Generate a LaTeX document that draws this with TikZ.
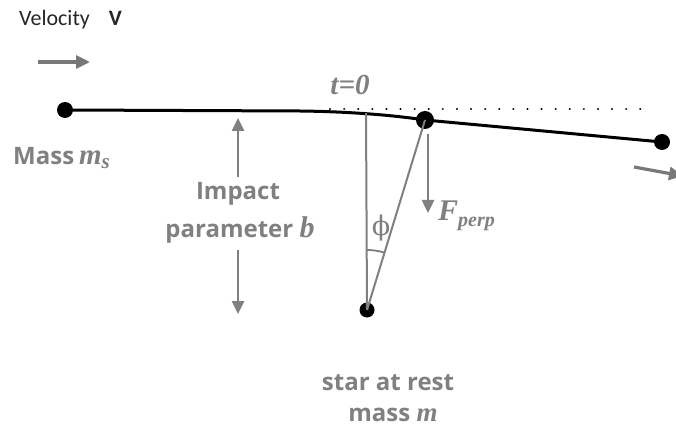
\documentclass[tikz,border=0pt]{standalone}
\usepackage{fontspec}
\usetikzlibrary{arrows.meta}
\newfontfamily\carl{Carlito}
\newfontfamily\osans{Open Sans}
\newfontfamily\lser{Liberation Serif}
\newfontfamily\dvser{DejaVu Serif}
\definecolor{gr}{RGB}{128,128,128}
\definecolor{ga}{RGB}{120,120,120}
\begin{document}
\begin{tikzpicture}[x=1pt,y=-1pt,
  dot/.style={circle,fill=black,inner sep=0pt,minimum size=#1},
  garrow/.style={draw=ga,line width=3.2pt,-{Triangle[length=14pt,width=13pt]}},
  thinarrow/.style={draw=gr,line width=2.5pt,-{Triangle[length=13pt,width=12pt]}},
  glabel/.style={text=gr,font=\osans\bfseries\fontsize{24}{27}\selectfont,inner sep=0pt},
  serit/.style={text=gr,font=\lser\bfseries\itshape\fontsize{#1}{#1}\selectfont,inner sep=0pt},
  grline/.style={draw=gr,line width=2pt},
]
\useasboundingbox (0,0) rectangle (676,430);
\fill[white] (0,0) rectangle (676,430);
% masses
\node[dot=16pt] (ms) at (65,110) {};
\node[dot=18pt] (mid) at (425,120) {};
\node[dot=16pt] (end) at (662,142) {};
\node[dot=15pt] (star) at (367,310) {};
\coordinate (bend) at (300,111);
\coordinate (top) at (366,113);
\coordinate (d0) at (330,109);
\coordinate (d1) at (648,109);
% trajectory
\draw[line width=2.2pt,line cap=round,dash pattern=on 0.1pt off 14pt] (d0) -- (d1);
\draw[line width=3pt] (ms.center) -- (bend) .. controls (340,111.5) and (385,114) .. (mid.center) -- (end.center);
% geometry lines
\draw[grline] (top) -- (star.center);
\draw[grline] (star.center) -- (mid.center);
\draw[draw=gr,line width=1.8pt] (star.center) ++(90:60pt) arc[start angle=90,end angle=73,radius=60pt];
% force arrow
\coordinate (f0) at (428,134);
\coordinate (f1) at (428,213);
\draw[thinarrow] (f0) -- (f1);
% velocity arrows
\coordinate (va0) at (38,62);
\coordinate (va1) at (90,62);
\draw[garrow] (va0) -- (va1);
\coordinate (vb0) at (634,167);
\coordinate (vb1) at (683,176);
\draw[garrow] (vb0) -- (vb1);
% impact parameter arrows
\coordinate (ia0) at (238,177);
\coordinate (ia1) at (238,118);
\coordinate (ib0) at (238,250);
\coordinate (ib1) at (238,314);
\draw[thinarrow] (ia0) -- (ia1);
\draw[thinarrow] (ib0) -- (ib1);
% texts
\node[anchor=west,inner sep=0pt,text=black!85,font=\carl\fontsize{22}{25}\selectfont] (vel) at (19,20) {Velocity\hspace{19pt}\textbf{V}};
\node[glabel,anchor=west] (masslab) at (13,158) {Mass\hspace{5pt}{\lser\itshape\bfseries\fontsize{29}{29}\selectfont m\raisebox{-0.35ex}{\fontsize{21}{21}\selectfont s}}};
\node[glabel] (imp1) at (238,194) {Impact};
\node[glabel] (imp2) at (240,230) {parameter {\lser\itshape\bfseries\fontsize{30}{30}\selectfont b}};
\node[serit=29] (t0) at (350,85) {t=0};
\node[serit=30,anchor=west] (fp) at (438,216) {F\raisebox{-0.4ex}{\fontsize{20}{20}\selectfont perp}};
\node[text=gr,inner sep=0pt,font=\dvser\fontsize{27}{27}\selectfont] (phi) at (381,228) {ϕ};
\node[glabel] (star1) at (388,383) {star at rest};
\node[glabel] (star2) at (393,415) {mass {\lser\itshape\bfseries\fontsize{27}{27}\selectfont m}};
\end{tikzpicture}
\end{document}
